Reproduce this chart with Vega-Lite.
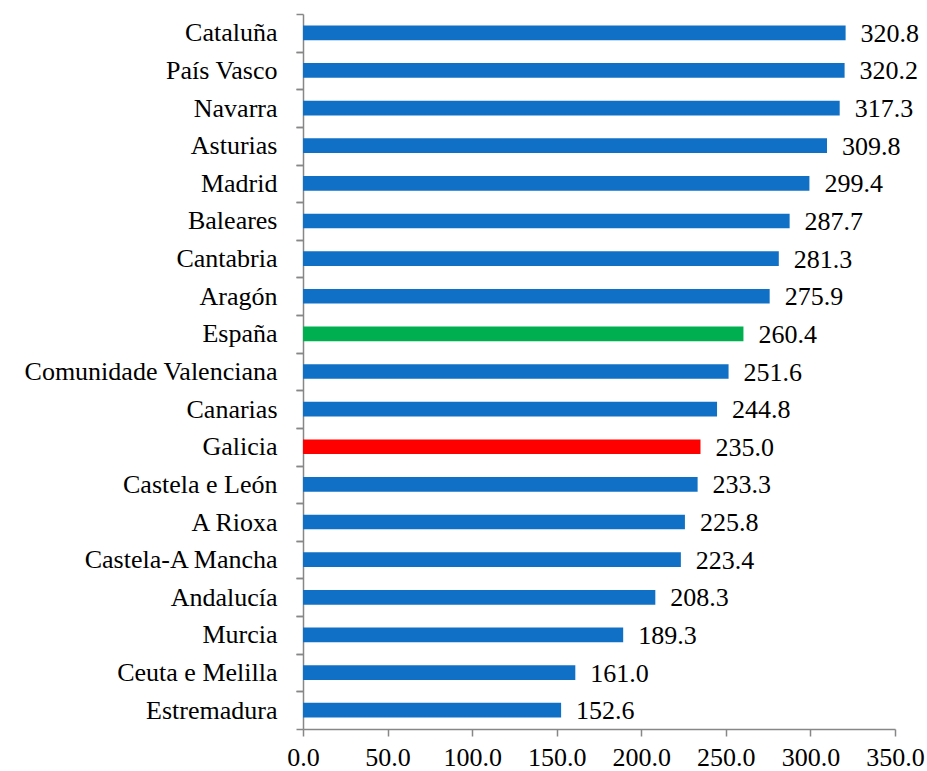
{
  "$schema": "https://vega.github.io/schema/vega-lite/v6.json",
  "autosize": {"type": "none"},
  "padding": {"left": 303, "top": 14, "right": 32, "bottom": 42},
  "width": 592,
  "height": 715,
  "background": "white",
  "config": {
    "view": {"stroke": null},
    "font": "Liberation Serif",
    "axis": {"labelFont": "Liberation Serif", "labelFontSize": 26, "labelColor": "#000000", "labelLimit": 0, "domainColor": "#878787", "tickColor": "#878787", "domainWidth": 1.5, "tickWidth": 1.5, "tickSize": 7, "grid": false, "title": null}
  },
  "data": {
    "values": [
      {"region": "Cataluña", "value": 320.8, "grupo": "ca"},
      {"region": "País Vasco", "value": 320.2, "grupo": "ca"},
      {"region": "Navarra", "value": 317.3, "grupo": "ca"},
      {"region": "Asturias", "value": 309.8, "grupo": "ca"},
      {"region": "Madrid", "value": 299.4, "grupo": "ca"},
      {"region": "Baleares", "value": 287.7, "grupo": "ca"},
      {"region": "Cantabria", "value": 281.3, "grupo": "ca"},
      {"region": "Aragón", "value": 275.9, "grupo": "ca"},
      {"region": "España", "value": 260.4, "grupo": "es"},
      {"region": "Comunidade Valenciana", "value": 251.6, "grupo": "ca"},
      {"region": "Canarias", "value": 244.8, "grupo": "ca"},
      {"region": "Galicia", "value": 235.0, "grupo": "ga"},
      {"region": "Castela e León", "value": 233.3, "grupo": "ca"},
      {"region": "A Rioxa", "value": 225.8, "grupo": "ca"},
      {"region": "Castela-A Mancha", "value": 223.4, "grupo": "ca"},
      {"region": "Andalucía", "value": 208.3, "grupo": "ca"},
      {"region": "Murcia", "value": 189.3, "grupo": "ca"},
      {"region": "Ceuta e Melilla", "value": 161.0, "grupo": "ca"},
      {"region": "Estremadura", "value": 152.6, "grupo": "ca"}
    ]
  },
  "resolve": {"axis": {"y": "independent"}},
  "layer": [
    {
      "mark": {"type": "bar"},
      "encoding": {
        "y": {
          "field": "region", "type": "nominal", "sort": null,
          "scale": {"paddingInner": 0.61, "paddingOuter": 0.305},
          "axis": {"orient": "left", "bandPosition": 0, "tickOffset": -11.48, "labelOffset": 11.48, "labelPadding": 19}
        },
        "x": {
          "field": "value", "type": "quantitative",
          "scale": {"domain": [0, 350], "nice": false},
          "axis": {"values": [0, 50, 100, 150, 200, 250, 300, 350], "format": ".1f", "labelPadding": 8, "labelFlush": false}
        },
        "color": {"field": "grupo", "type": "nominal", "legend": null,
          "scale": {"domain": ["ca", "es", "ga"], "range": ["#1070C6", "#00B050", "#FF0000"]}}
      }
    },
    {
      "mark": {"type": "text", "align": "left", "baseline": "middle", "dx": 15, "dy": 1, "fontSize": 26, "font": "Liberation Serif", "color": "#000000"},
      "encoding": {
        "y": {
          "field": "region", "type": "nominal", "sort": null,
          "axis": {"orient": "left", "bandPosition": 1, "tickOffset": 11.48, "labels": false, "domain": false}
        },
        "x": {"field": "value", "type": "quantitative"},
        "text": {"field": "value", "type": "quantitative", "format": ".1f"}
      }
    }
  ]
}
